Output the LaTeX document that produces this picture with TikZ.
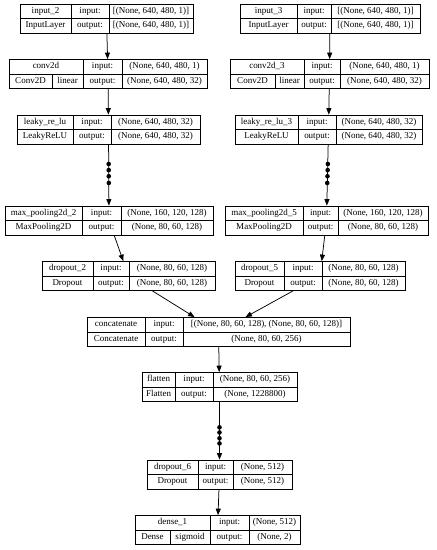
\documentclass[tikz,border=0pt]{standalone}
\usepackage{fontspec}
\setmainfont{Liberation Serif}
\usetikzlibrary{arrows.meta, calc}
\tikzset{conn/.style={-{Triangle[length=6.5pt, width=5pt]}, line width=0.75pt},
  cell/.style={inner sep=0pt, text height=6pt, text depth=2pt, font=\fontsize{9}{10}\selectfont},
  layerbox/.style={draw, line width=0.75pt, inner sep=0pt, minimum height=29pt}}
\begin{document}
\begin{tikzpicture}[x=1pt, y=-1pt, line width=0.75pt]
\fill[white] (0,0) rectangle (437,550);
% layer tables: name/left/col1/col2/right/top/label/class/activation/split/input/output
\foreach \n/\xa/\xb/\xc/\xd/\ya/\lname/\lcls/\lact/\xs/\vin/\vout in {
  inp2/20/71/109/193/4/{input\_2}/InputLayer/{}/0/{[(None, 640, 480, 1)]}/{[(None, 640, 480, 1)]},
  inp3/240/297/331/420/4/{input\_3}/InputLayer/{}/0/{[(None, 640, 480, 1)]}/{[(None, 640, 480, 1)]},
  conv/9/83/122/207/59.5/conv2d/Conv2D/linear/52/{(None, 640, 480, 1)}/{(None, 640, 480, 32)},
  conv3/230/304/340/429/59.5/{conv2d\_3}/Conv2D/linear/275/{(None, 640, 480, 1)}/{(None, 640, 480, 32)},
  lrelu/17/73/111/200/115/{leaky\_re\_lu}/LeakyReLU/{}/0/{(None, 640, 480, 32)}/{(None, 640, 480, 32)},
  lrelu3/235/298/336/422/115/{leaky\_re\_lu\_3}/LeakyReLU/{}/0/{(None, 640, 480, 32)}/{(None, 640, 480, 32)},
  mpool2/5/82/121/213/206/{max\_pooling2d\_2}/MaxPooling2D/{}/0/{(None, 160, 120, 128)}/{(None, 80, 60, 128)},
  mpool5/225/303/338/428/206/{max\_pooling2d\_5}/MaxPooling2D/{}/0/{(None, 160, 120, 128)}/{(None, 80, 60, 128)},
  drop2/42/93/129/215/261.5/{dropout\_2}/Dropout/{}/0/{(None, 80, 60, 128)}/{(None, 80, 60, 128)},
  drop5/235/284/322/405/261.5/{dropout\_5}/Dropout/{}/0/{(None, 80, 60, 128)}/{(None, 80, 60, 128)},
  concat/87/145/183/350/317.5/concatenate/Concatenate/{}/0/{[(None, 80, 60, 128), (None, 80, 60, 128)]}/{(None, 80, 60, 256)},
  flat/142/175/213/297/372.5/flatten/Flatten/{}/0/{(None, 80, 60, 256)}/{(None, 1228800)},
  drop6/147/198/233/292/460/{dropout\_6}/Dropout/{}/0/{(None, 512)}/{(None, 512)},
  dense1/135/210/249/300/515.5/{dense\_1}/Dense/sigmoid/170/{(None, 512)}/{(None, 2)}}{
  \node[layerbox, minimum width={(\xd-\xa)*1pt}] (\n) at ({(\xa+\xd)/2}, {\ya+14.5}) {};
  \draw (\xa,{\ya+14.5}) -- (\xd,{\ya+14.5});
  \draw (\xb,\ya) -- (\xb,{\ya+29}); \draw (\xc,\ya) -- (\xc,{\ya+29});
  \node[cell] at ({(\xa+\xb)/2}, {\ya+7.25}) {\lname};
  \ifnum\xs=0
    \node[cell] at ({(\xa+\xb)/2}, {\ya+21.75}) {\lcls};
  \else
    \draw (\xs,{\ya+14.5}) -- (\xs,{\ya+29});
    \node[cell] at ({(\xa+\xs)/2}, {\ya+21.75}) {\lcls};
    \node[cell] at ({(\xs+\xb)/2}, {\ya+21.75}) {\lact};
  \fi
  \node[cell] at ({(\xb+\xc)/2}, {\ya+7.25}) {input:};
  \node[cell] at ({(\xb+\xc)/2}, {\ya+21.75}) {output:};
  \node[cell] at ({(\xc+\xd)/2}, {\ya+7.25}) {\vin};
  \node[cell] at ({(\xc+\xd)/2}, {\ya+21.75}) {\vout};
}
% connectors
\draw[conn] (inp2) -- (conv);
\draw[conn] (inp3) -- (conv3);
\draw[conn] (conv) -- (lrelu);
\draw[conn] (conv3) -- (lrelu3);
\draw[conn] (lrelu) -- (mpool2);
\draw[conn] (lrelu3) -- (mpool5);
\draw[conn] (mpool2) -- (drop2);
\draw[conn] (mpool5) -- (drop5);
\draw[conn] (drop2) -- (concat);
\draw[conn] (drop5) -- (concat);
\draw[conn] (concat) -- (flat);
\draw[conn] (flat) -- (drop6);
\draw[conn] (drop6) -- (dense1);
% elided layers
\foreach \t in {0.32,0.42,0.52,0.63} {
  \fill ($(lrelu.south)!\t!(mpool2.north)$) circle (2.3pt);
  \fill ($(lrelu3.south)!\t!(mpool5.north)$) circle (2.3pt);
}
\foreach \t in {0.44,0.53,0.63,0.72}
  \fill ($(flat.south)!\t!(drop6.north)$) circle (2.3pt);
\end{tikzpicture}
\end{document}
